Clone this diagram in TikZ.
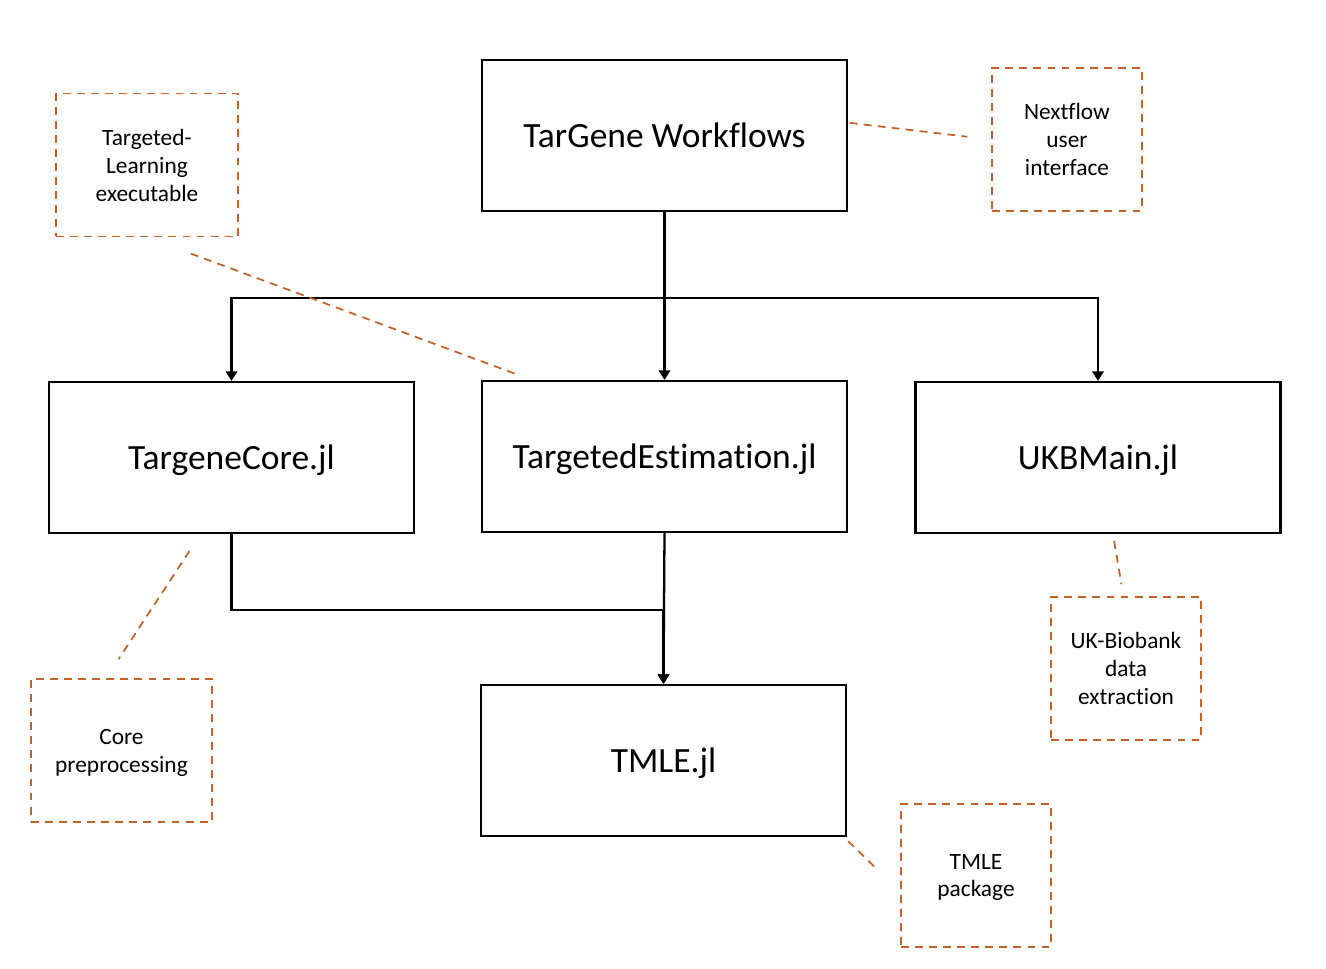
\documentclass[tikz,border=0pt]{standalone}
\usepackage{fontspec}
\setmainfont{Carlito}[Ligatures={NoCommon}]
\usetikzlibrary{arrows.meta}
\definecolor{noteorange}{RGB}{197,98,40}
\begin{document}
\begin{tikzpicture}[
    x=0.02cm, y=-0.02cm,
    mainbox/.style={rectangle, draw=black, line width=1.2pt, fill=white, minimum width=7.3cm, minimum height=3.02cm, text depth=0pt, align=center, font=\fontsize{20.2}{24}\selectfont},
    notebox/.style={rectangle, draw=noteorange, line width=1pt, dash pattern=on 4.5pt off 3.5pt, minimum width=3cm, minimum height=2.86cm, text depth=0pt, align=center, font=\fontsize{13.3}{15.9}\selectfont},
    arr/.style={-{Triangle[width=6.5pt,length=5.5pt]}, line width=1.3pt},
    note/.style={draw=noteorange, line width=1pt, dash pattern=on 4.5pt off 3.5pt}
]
\useasboundingbox (0,0) rectangle (1326,968);

% main packages
\node[mainbox] (tw) at (664.5, 135.5) {TarGene Workflows};
\node[mainbox] (tc) at (231.5, 457.5) {TargeneCore.jl};
\node[mainbox] (te) at (664.5, 456.5) {TargetedEstimation.jl};
\node[mainbox] (uk) at (1098, 457.5) {UKBMain.jl};
\node[mainbox] (tm) at (663.5, 760.5) {TMLE.jl};

% notes
\node[notebox, minimum width=3.64cm] (tl) at (147, 165) {Targeted-\\Learning\\executable};
\node[notebox] (nf) at (1067, 139.5) {Nextflow\\user\\interface};
\node[notebox, minimum width=3.62cm] (cp) at (121.5, 750.5) {Core\\preprocessing};
\node[notebox] (ub) at (1126, 668.5) {UK-Biobank\\data\\extraction};
\node[notebox] (tp) at (976, 875.5) {TMLE\\package};

% dependencies
\draw[arr] (tw.south) -- (te.north);
\draw[arr] (tw.south) -- ++(0,86) -| (tc.north);
\draw[arr] (tw.south) -- ++(0,86) -| (uk.north);
\draw[arr] (tc.south) -- ++(0,76) -| (tm.north);
\draw[arr] (te.south) -- (tm.north);

% note links
\draw[note, shorten <=1pt, shorten >=13.6pt] (tw.4) -- (nf.west);
\draw[note, shorten <=26.6pt, shorten >=7.3pt] (tl.south) -- (te.150);
\draw[note, shorten <=11.5pt, shorten >=12.9pt] (tc.248) -- (cp.102);
\draw[note, shorten <=4pt, shorten >=6.9pt] (uk.281) -- (ub.92);
\draw[note, shorten <=3.4pt, shorten >=18pt] (tm.337) -- (tp.192);
\end{tikzpicture}
\end{document}
